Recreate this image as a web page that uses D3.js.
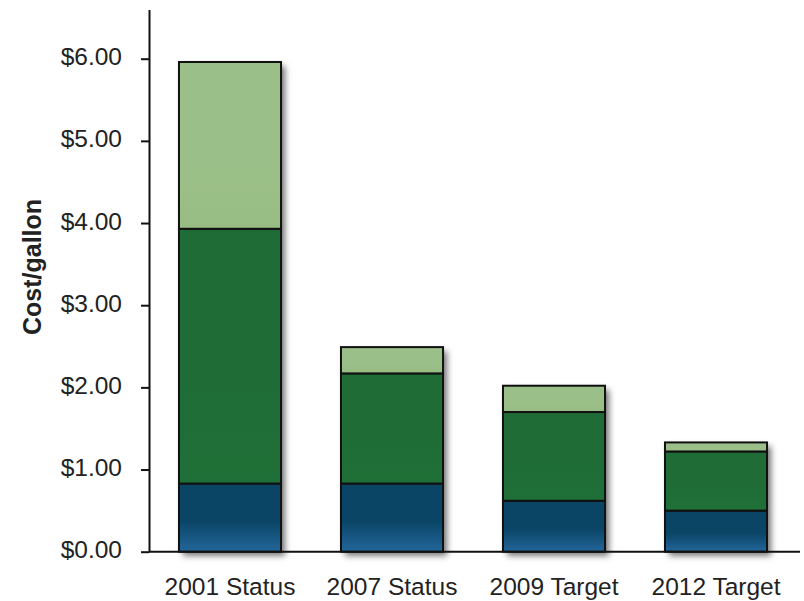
<!DOCTYPE html>
<html>
<head>
<meta charset="utf-8">
<script src="https://cdn.jsdelivr.net/npm/d3@7"></script>
<style>
  html, body { margin: 0; padding: 0; background: #ffffff; }
  svg { display: block; font-family: "Liberation Sans", Arial, sans-serif; }
</style>
</head>
<body>
<svg id="chart" width="804" height="601"></svg>
<script>
// Cost per gallon, broken down by component, for each milestone
const categories = ["2001 Status", "2007 Status", "2009 Target", "2012 Target"];
const feedstock  = [0.83, 0.83, 0.62, 0.50];
const conversion = [3.10, 1.34, 1.08, 0.72];
const enzyme     = [2.03, 0.32, 0.32, 0.11];
const yTicks     = [0, 1, 2, 3, 4, 5, 6];
const yLabel     = "Cost/gallon";

const seriesKeys = ["feedstock", "conversion", "enzyme"];
const table = categories.map((c, i) => ({
  category: c,
  feedstock: feedstock[i],
  conversion: conversion[i],
  enzyme: enzyme[i]
}));

const svg = d3.select("#chart");
const x0 = 149, x1 = 797, yBase = 551.7, yTop = 9.4;

const x = d3.scaleBand().domain(categories).range([x0, x1])
  .paddingInner(0.37).paddingOuter(0.185);
const y = d3.scaleLinear().domain([0, 6.6]).range([yBase, yTop]);

const defs = svg.append("defs");
const shadow = defs.append("filter").attr("id", "shadow")
  .attr("x", "-20%").attr("y", "-20%").attr("width", "150%").attr("height", "150%");
shadow.append("feDropShadow").attr("dx", 4).attr("dy", 4).attr("stdDeviation", 3)
  .attr("flood-color", "#000").attr("flood-opacity", 0.55);

function vGrad(id, top, bottom) {
  const g = defs.append("linearGradient").attr("id", id)
    .attr("x1", 0).attr("y1", 0).attr("x2", 0).attr("y2", 1);
  g.append("stop").attr("offset", "0%").attr("stop-color", top);
  g.append("stop").attr("offset", "55%").attr("stop-color", top);
  g.append("stop").attr("offset", "100%").attr("stop-color", bottom);
}
vGrad("gFeed", "#0a4566", "#23669a");
vGrad("gConv", "#1f6c36", "#1f7038");
vGrad("gEnz", "#9bbf88", "#98bd84");

const fills = { feedstock: "url(#gFeed)", conversion: "url(#gConv)", enzyme: "url(#gEnz)" };

const stacked = d3.stack().keys(seriesKeys)(table);

// Shadow beneath each whole bar
svg.append("g").selectAll("rect")
  .data(table)
  .join("rect")
  .attr("x", d => x(d.category))
  .attr("width", x.bandwidth())
  .attr("y", d => y(d.feedstock + d.conversion + d.enzyme))
  .attr("height", d => y(0) - y(d.feedstock + d.conversion + d.enzyme))
  .attr("fill", "#333")
  .attr("filter", "url(#shadow)");

// Stacked segments
svg.append("g").selectAll("g")
  .data(stacked)
  .join("g")
  .attr("fill", s => fills[s.key])
  .selectAll("rect")
  .data(s => s)
  .join("rect")
  .attr("x", d => x(d.data.category))
  .attr("width", x.bandwidth())
  .attr("y", d => y(d[1]))
  .attr("height", d => y(d[0]) - y(d[1]))
  .attr("stroke", "#111")
  .attr("stroke-width", 2);

// Y axis
const yAxis = svg.append("g")
  .attr("transform", `translate(${x0},0)`)
  .call(d3.axisLeft(y).tickValues(yTicks).tickFormat(d => "$" + d.toFixed(2))
    .tickSize(8).tickPadding(19).tickSizeOuter(0));
yAxis.select(".domain").attr("stroke", "#111").attr("stroke-width", 2);
yAxis.selectAll(".tick line").attr("stroke", "#111").attr("stroke-width", 2);
yAxis.selectAll(".tick text").attr("font-size", 24.5).attr("fill", "#222")
  .attr("dy", "0.25em")
  .attr("font-family", "Liberation Sans, Arial, sans-serif");

// X axis baseline and category labels
const xAxis = svg.append("g")
  .attr("transform", `translate(0,${yBase})`)
  .call(d3.axisBottom(x).tickSize(0).tickPadding(26));
xAxis.select(".domain").attr("d", `M${x0},0H800`).attr("stroke", "#111").attr("stroke-width", 2);
xAxis.selectAll(".tick text").attr("font-size", 24.5).attr("fill", "#222")
  .attr("font-family", "Liberation Sans, Arial, sans-serif");

// Y axis title
svg.append("text")
  .attr("transform", "translate(41,267) rotate(-90)")
  .attr("text-anchor", "middle")
  .attr("font-size", 25)
  .attr("font-weight", "bold")
  .attr("fill", "#222")
  .text(yLabel);
</script>
</body>
</html>
